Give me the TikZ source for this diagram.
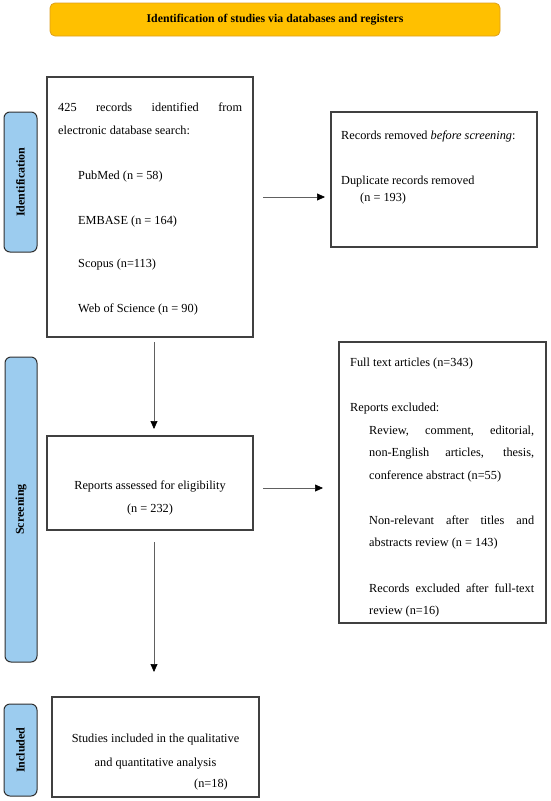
\documentclass[tikz,border=0pt]{standalone}
\usepackage{fontspec}
\setmainfont{Liberation Serif}
\usetikzlibrary{arrows.meta}
\definecolor{bannerfill}{HTML}{FFC000}
\definecolor{bannerdraw}{HTML}{DDA020}
\definecolor{labfill}{HTML}{9CCCEF}
\definecolor{labdraw}{HTML}{2F2F2F}
\definecolor{boxdraw}{HTML}{404040}
\definecolor{arrowline}{HTML}{606060}
\tikzset{
  x=1pt,y=1pt,
  every node/.style={font=\fontsize{12.3}{14}\selectfont, inner sep=0pt},
  flowbox/.style={draw=boxdraw, line width=1.1pt, rectangle},
  phaselabel/.style={draw=labdraw, fill=labfill, line width=1pt, rounded corners=6pt, rectangle},
  phasetext/.style={rotate=90, font=\fontsize{12}{14}\selectfont\bfseries},
  txt/.style={anchor=base west},
  ctxt/.style={anchor=base},
  flowarrow/.style={draw=arrowline, line width=0.7pt, -{Triangle[length=8pt,width=7pt,fill=black,color=black]}},
}
\begin{document}
\begin{tikzpicture}
\useasboundingbox (0,0) rectangle (550,-801);
% banner
\node[draw=bannerdraw, fill=bannerfill, line width=0.8pt, rounded corners=5pt, minimum width=450pt, minimum height=33pt, font=\fontsize{11.8}{14}\selectfont\bfseries] (banner) at (275,-19.5) {Identification of studies via databases and registers};
% phase labels
\node[phaselabel, minimum width=33pt, minimum height=140pt] (labid) at (20.5,-182) {};
\node[phasetext] (labidt) at (labid.center) {Identification};
\node[phaselabel, minimum width=32pt, minimum height=305pt] (labsc) at (21,-509.5) {};
\node[phasetext] (labsct) at (labsc.center) {Screening};
\node[phaselabel, minimum width=33pt, minimum height=92pt] (labin) at (20.5,-750) {};
\node[phasetext] (labint) at (labin.center) {Included};
% boxes
\node[flowbox, minimum width=206pt, minimum height=260pt] (box1) at (150,-207) {};
\node[flowbox, minimum width=206pt, minimum height=135pt] (removed) at (434,-179.5) {};
\node[flowbox, minimum width=206pt, minimum height=94pt] (reports) at (150,-483) {};
\node[flowbox, minimum width=207pt, minimum height=281pt] (fulltext) at (442.5,-482.5) {};
\node[flowbox, minimum width=207pt, minimum height=100pt] (included) at (155.5,-747) {};
% box1 text
\node[txt] (t11) at (58,-111) {\makebox[184pt][s]{425 records identified from}};
\node[txt] (t12) at (58,-134) {electronic database search:};
\node[txt] (t13) at (78,-179) {PubMed (n = 58)};
\node[txt] (t14) at (78,-224) {EMBASE (n = 164)};
\node[txt] (t15) at (78,-267) {Scopus (n=113)};
\node[txt] (t16) at (78,-312) {Web of Science (n = 90)};
% removed text
\node[txt] (t21) at (341,-139) {Records removed \textit{before screening}:};
\node[txt] (t22) at (341,-184) {Duplicate records removed};
\node[txt] (t23) at (360,-201) {(n = 193)};
% reports text
\node[ctxt] (t31) at (150,-489) {Reports assessed for eligibility};
\node[ctxt] (t32) at (150,-512) {(n = 232)};
% full text box
\node[txt] (t41) at (350,-366) {Full text articles (n=343)};
\node[txt] (t42) at (350,-411) {Reports excluded:};
\node[txt] (t43) at (369,-434) {\makebox[165pt][s]{Review, comment, editorial,}};
\node[txt] (t44) at (369,-456) {\makebox[165pt][s]{non-English articles, thesis,}};
\node[txt] (t45) at (369,-479) {conference abstract (n=55)};
\node[txt] (t46) at (369,-524) {\makebox[165pt][s]{Non-relevant after titles and}};
\node[txt] (t47) at (369,-546) {abstracts review (n = 143)};
\node[txt] (t48) at (369,-592) {\makebox[165pt][s]{Records excluded after full-text}};
\node[txt] (t49) at (369,-614) {review (n=16)};
% included text
\node[ctxt] (t51) at (155.5,-742) {Studies included in the qualitative};
\node[ctxt] (t52) at (155.5,-766) {and quantitative analysis};
\node[anchor=base east] (t53) at (228,-787) {(n=18)};
% arrows
\coordinate (a1s) at (263,-197);
\coordinate (a1e) at (325,-197);
\draw[flowarrow] (a1s) -- (a1e);
\coordinate (a2s) at (154,-342);
\coordinate (a2e) at (154,-429);
\draw[flowarrow] (a2s) -- (a2e);
\coordinate (a3s) at (263,-488);
\coordinate (a3e) at (323,-488);
\draw[flowarrow] (a3s) -- (a3e);
\coordinate (a4s) at (154,-542);
\coordinate (a4e) at (154,-672);
\draw[flowarrow] (a4s) -- (a4e);
\end{tikzpicture}
\end{document}
